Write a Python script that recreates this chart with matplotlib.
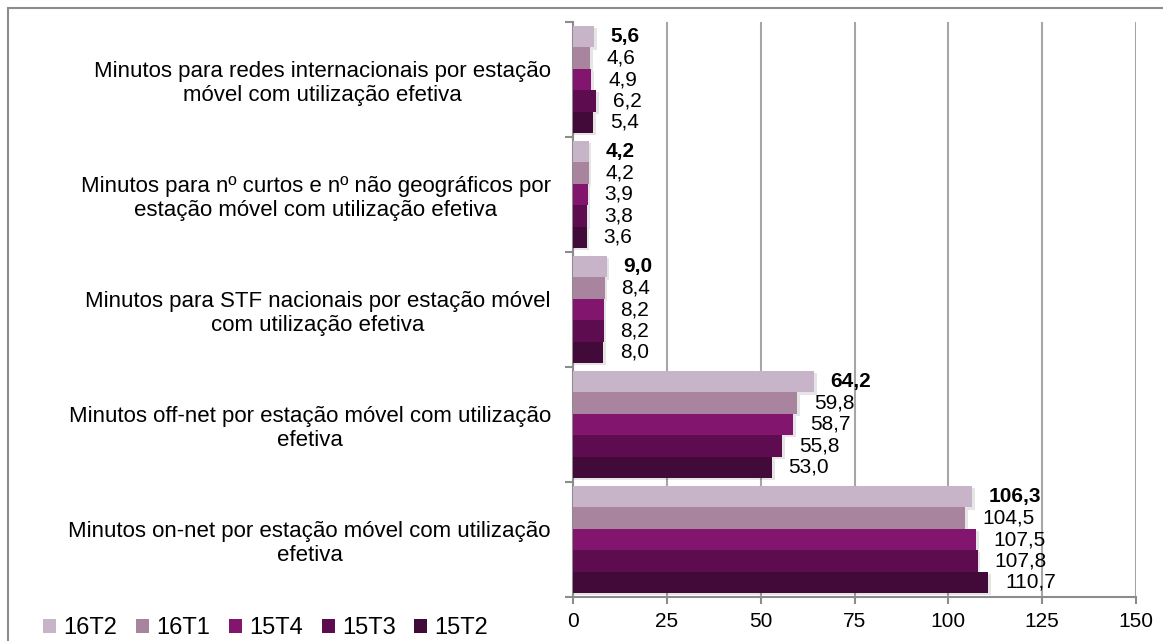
import matplotlib
matplotlib.use('Agg')
import matplotlib.pyplot as plt
import matplotlib.patches as mpatches
import numpy as np

plt.rcParams['font.family'] = ['Liberation Sans', 'DejaVu Sans']

# categories, bottom to top
categorias = [
    'Minutos on-net por estação móvel com utilização\nefetiva',
    'Minutos off-net por estação móvel com utilização\nefetiva',
    'Minutos para STF nacionais por estação móvel\ncom utilização efetiva',
    'Minutos para nº curtos e nº não geográficos por\nestação móvel com utilização efetiva',
    'Minutos para redes internacionais por estação\nmóvel com utilização efetiva',
]
series = ['16T2', '16T1', '15T4', '15T3', '15T2']
v_16T2 = [106.3, 64.2, 9.0, 4.2, 5.6]
v_16T1 = [104.5, 59.8, 8.4, 4.2, 4.6]
v_15T4 = [107.5, 58.7, 8.2, 3.9, 4.9]
v_15T3 = [107.8, 55.8, 8.2, 3.8, 6.2]
v_15T2 = [110.7, 53.0, 8.0, 3.6, 5.4]
valores = [v_16T2, v_16T1, v_15T4, v_15T3, v_15T2]
cores = ['#C8B4C8', '#A8849E', '#82156E', '#5E0C50', '#420A38']

fig = plt.figure(figsize=(11.63, 6.41), dpi=100)
ax = fig.add_axes([573/1163, 1-597/641, (1136-573)/1163, (597-22)/641])

h = 0.186
base = np.arange(len(categorias))
topo = 0.5 + 2*h  # centro da barra de cima em cada grupo

for i, (nome, vals, cor) in enumerate(zip(series, valores, cores)):
    y = base + topo - i*h
    # sombra leve
    ax.barh(y - 0.02, np.array(vals) + 0.7, height=h, color='#000000', alpha=0.1,
            zorder=2, linewidth=0)
    ax.barh(y, vals, height=h, color=cor, label=nome, zorder=3)
    for yy, v in zip(y, vals):
        ax.annotate(f'{v:.1f}'.replace('.', ','), xy=(v, yy), xytext=(12, 0),
                    textcoords='offset points', va='center', ha='left',
                    fontsize=15, fontweight='bold' if i == 0 else 'normal', zorder=4)

ax.set_xlim(0, 150)
ax.set_ylim(0, 5)
ax.set_xticks(np.arange(0, 151, 25))
ax.tick_params(axis='x', labelsize=15, length=5, width=1.5, color='#8C8C8C', pad=6)

ax.set_yticks(np.arange(0, 6))
ax.set_yticklabels([])
ax.tick_params(axis='y', which='major', length=6, width=1.5, color='#8C8C8C')
ax.set_yticks(base + 0.5, minor=True)
ax.set_yticklabels(categorias, minor=True, fontsize=16, multialignment='center')
ax.tick_params(axis='y', which='minor', length=0, pad=16)

ax.grid(True, axis='x', color='#A6A6A6', linewidth=1.5, zorder=0)
for s in ['top', 'right']:
    ax.spines[s].set_visible(False)
for s in ['left', 'bottom']:
    ax.spines[s].set_color('#8C8C8C')
    ax.spines[s].set_linewidth(1.5)

fig.legend(loc='lower left', bbox_to_anchor=(0.019, -0.03), ncol=5, frameon=False,
           fontsize=17, handlelength=0.55, handleheight=0.55, handletextpad=0.3,
           columnspacing=0.8)

fig.patches.append(mpatches.Rectangle((8/1163, -0.1), 1.2, 1 - 8/641 + 0.1,
                                      transform=fig.transFigure, fill=False,
                                      edgecolor='#8C8C8C', linewidth=1.5))

fig.savefig('out.png', dpi=100)
